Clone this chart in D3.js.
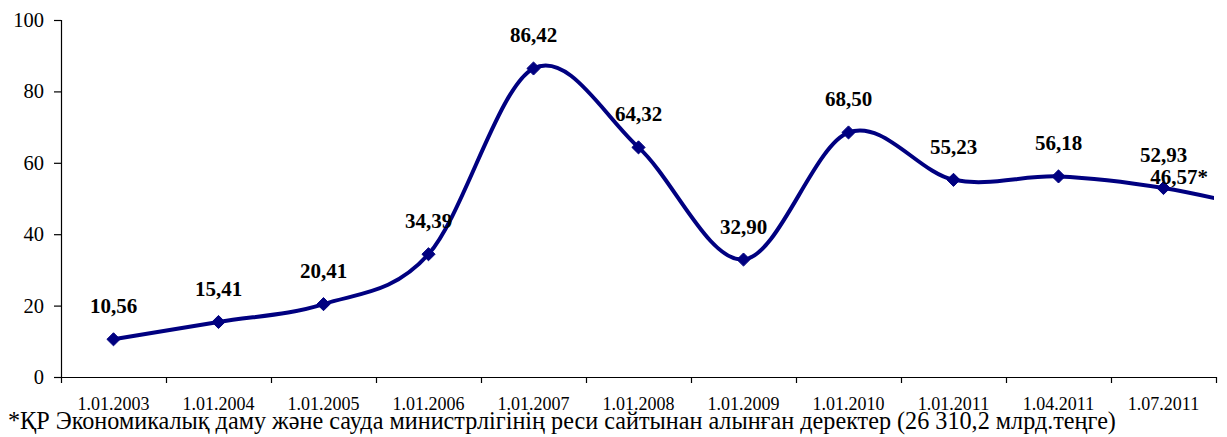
<!DOCTYPE html>
<html><head><meta charset="utf-8">
<script src="https://cdn.jsdelivr.net/npm/d3@7"></script>
<style>
html,body{margin:0;padding:0;background:#fff;}
svg{display:block;}
</style></head>
<body>
<svg id="chart" width="1227" height="437"></svg>
<script>
const categories = ["1.01.2003","1.01.2004","1.01.2005","1.01.2006","1.01.2007","1.01.2008","1.01.2009","1.01.2010","1.01.2011","1.04.2011","1.07.2011"];
const values = [10.56,15.41,20.41,34.39,86.42,64.32,32.90,68.50,55.23,56.18,52.93];
const valueLabels = ["10,56","15,41","20,41","34,39","86,42","64,32","32,90","68,50","55,23","56,18","52,93"];
const extraValue = 46.57;          // continuation point beyond the last category
const extraLabel = "46,57*";
const yTicks = [0,20,40,60,80,100];
const footnote = "*ҚР Экономикалық даму және сауда министрлігінің реси сайтынан алынған деректер (26 310,2 млрд.теңге)";

(function(){
const svg = d3.select("#chart");
const mLeft = 61, mRight = 1216, mTop = 20, mBottom = 377;
const navy = "#000080";
const FF = '"Liberation Serif"';

const y = d3.scaleLinear().domain([0,100]).range([mBottom, mTop]);
const xb = d3.scaleBand().domain(categories).range([mLeft, mRight]).paddingInner(0).paddingOuter(0);
const xi = d3.scaleLinear().domain([-0.5, categories.length - 0.5]).range([mLeft, mRight]);

// Y axis
const yAxis = svg.append("g").attr("transform", `translate(${mLeft},0)`)
  .call(d3.axisLeft(y).tickValues(yTicks).tickSize(7).tickPadding(10).tickFormat(d3.format("d")));
yAxis.select(".domain").attr("stroke","#000").attr("stroke-width",1.2).attr("d", `M0.5,${mTop}V${mBottom}`);
yAxis.selectAll(".tick line").attr("stroke","#000").attr("stroke-width",1.2);
yAxis.selectAll(".tick text").style("font-family", FF).style("font-size", "20.5px").attr("fill","#000");

// X axis with ticks on category boundaries
const xAxisG = svg.append("g").attr("transform", `translate(0,${mBottom})`);
xAxisG.append("line").attr("x1", mLeft).attr("x2", mRight).attr("y1",0.5).attr("y2",0.5).attr("stroke","#000").attr("stroke-width",1.2);
const boundaries = d3.range(categories.length + 1).map(i => i - 0.5);
xAxisG.selectAll("line.tk").data(boundaries).join("line").attr("class","tk")
  .attr("x1", d => Math.round(xi(d)) + 0.5).attr("x2", d => Math.round(xi(d)) + 0.5)
  .attr("y1", 0).attr("y2", 6).attr("stroke","#000").attr("stroke-width",1.2);
xAxisG.selectAll("text").data(categories).join("text")
  .attr("x", d => xb(d) + xb.bandwidth()/2).attr("y", 33)
  .attr("text-anchor","middle").style("font-family", FF).style("font-size", "18px").attr("fill","#000")
  .text(d => d);

// Line (smoothed), clipped to the plot area
svg.append("clipPath").attr("id","clip").append("rect")
  .attr("x", mLeft).attr("y", 0).attr("width", mRight - mLeft - 2).attr("height", mBottom);
const pts = values.map((v,i) => [xi(i), y(v)]);
pts.push([xi(values.length), y(extraValue)]);
const line = d3.line().curve(d3.curveCatmullRom.alpha(0));
svg.append("path").attr("d", line(pts)).attr("fill","none").attr("stroke", navy)
  .attr("stroke-width", 4).attr("stroke-linejoin","round").attr("clip-path","url(#clip)");

// Diamond markers
const sym = d3.symbol().type(d3.symbolDiamond2).size(110);
svg.selectAll("path.mk").data(values).join("path").attr("class","mk")
  .attr("d", sym).attr("transform", (d,i) => `translate(${xi(i)},${y(d)})`)
  .attr("fill", navy).attr("stroke", navy).attr("stroke-width",1);

// Data labels
svg.selectAll("text.lbl").data(values).join("text").attr("class","lbl")
  .attr("x", (d,i) => xi(i)).attr("y", d => y(d) - 26)
  .attr("text-anchor","middle").style("font-family", FF).style("font-weight","bold")
  .style("font-size", "21px").attr("fill","#000")
  .text((d,i) => valueLabels[i]);
svg.append("text")
  .attr("x", mRight - 8).attr("y", y(extraValue) - 27)
  .attr("text-anchor","end").style("font-family", FF).style("font-weight","bold")
  .style("font-size", "21px").attr("fill","#000").text(extraLabel);

// Footnote
svg.append("text").attr("x", 8).attr("y", 429)
  .style("font-family", FF).style("font-size", "24.2px").attr("fill","#000").text(footnote);
})();
</script>
</body></html>
